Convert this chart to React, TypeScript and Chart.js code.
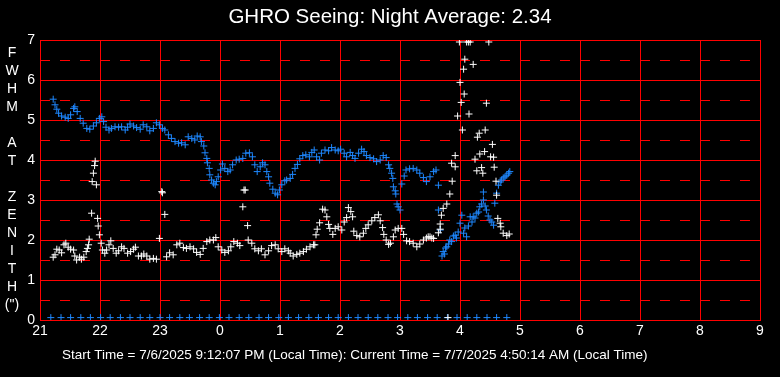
import React, { useEffect, useRef } from "react";
import { Chart, registerables } from "chart.js";

Chart.register(...registerables);

// ---------- DATA (x = hours after 21:00 local time) ----------
const hourLabels = ["21", "22", "23", "0", "1", "2", "3", "4", "5", "6", "7", "8", "9"];
const yTickValues = [0, 1, 2, 3, 4, 5, 6, 7];
const dashedLevels = [0.5, 1.5, 2.5, 3.5, 4.5, 5.5, 6.5];

const titleText = "GHRO Seeing: Night Average: 2.34";
const footerText =
  "Start Time = 7/6/2025 9:12:07 PM (Local Time): Current Time = 7/7/2025 4:50:14 AM (Local Time)";
const yLabelLetters = ["F", "W", "H", "M", "", "A", "T", "", "Z", "E", "N", "I", "T", "H", '(")'];

// Blue series (FWHM)
const blueX = [
  0.22, 0.25, 0.28, 0.31, 0.36, 0.42, 0.47, 0.51, 0.56, 0.58, 0.62, 0.67, 0.72, 0.78, 0.83, 0.89,
  0.94, 0.99, 1.03, 1.06, 1.1, 1.15, 1.19, 1.25, 1.31, 1.36, 1.42, 1.46, 1.5, 1.56, 1.61, 1.67,
  1.72, 1.78, 1.83, 1.89, 1.94, 1.99, 2.04, 2.08, 2.14, 2.19, 2.25, 2.31, 2.36, 2.42, 2.47, 2.53,
  2.58, 2.62, 2.67, 2.69, 2.73, 2.75, 2.78, 2.79, 2.82, 2.83, 2.86, 2.89, 2.92, 2.94, 2.97, 3.01,
  3.04, 3.08, 3.13, 3.17, 3.21, 3.27, 3.32, 3.38, 3.43, 3.49, 3.54, 3.58, 3.62, 3.67, 3.71, 3.75,
  3.78, 3.81, 3.83, 3.88, 3.92, 3.96, 3.99, 4.03, 4.08, 4.11, 4.17, 4.21, 4.25, 4.29, 4.33, 4.38,
  4.43, 4.49, 4.53, 4.57, 4.61, 4.66, 4.69, 4.75, 4.81, 4.86, 4.92, 4.97, 5.01, 5.07, 5.11, 5.17,
  5.21, 5.25, 5.31, 5.36, 5.4, 5.44, 5.5, 5.56, 5.61, 5.67, 5.72, 5.77, 5.81, 5.83, 5.86, 5.88,
  5.89, 5.92, 5.93, 5.95, 5.97, 6.0, 6.03, 6.07, 6.1, 6.16, 6.22, 6.28, 6.33, 6.39, 6.44, 6.5,
  6.56, 6.6, 6.64, 6.64, 6.67, 6.7, 6.72, 6.74, 6.76, 6.78, 6.81, 6.83, 6.86, 6.89, 6.92, 6.94,
  6.97, 7.0, 7.03, 7.06, 7.08, 7.11, 7.14, 7.17, 7.2, 7.22, 7.25, 7.28, 7.31, 7.33, 7.36, 7.39,
  7.39, 7.42, 7.44, 7.47, 7.5, 7.53, 7.56, 7.58, 7.61, 7.64, 7.67, 7.69, 7.72, 7.75, 7.78, 7.81,
  7.83,
];
const blueY = [
  5.52, 5.38, 5.27, 5.17, 5.1, 5.07, 5.04, 5.13, 5.29, 5.33, 5.21, 5.04, 4.92, 4.79, 4.77, 4.85,
  4.93, 5.04, 5.08, 4.96, 4.82, 4.75, 4.79, 4.83, 4.82, 4.83, 4.75, 4.82, 4.9, 4.85, 4.81, 4.77,
  4.88, 4.83, 4.73, 4.79, 4.93, 4.88, 4.79, 4.75, 4.63, 4.54, 4.46, 4.42, 4.43, 4.38, 4.58, 4.54,
  4.5, 4.6, 4.58, 4.46, 4.35, 4.18, 4.04, 3.93, 3.79, 3.63, 3.5, 3.42, 3.38, 3.46, 3.58, 3.75,
  3.9, 3.79, 3.71, 3.75, 3.88, 4.0, 4.02, 4.04, 4.17, 4.18, 4.08, 3.88, 3.71, 3.83, 3.93, 3.88,
  3.71, 3.58, 3.42, 3.27, 3.17, 3.13, 3.25, 3.38, 3.48, 3.5, 3.54, 3.64, 3.79, 3.89, 4.03, 4.11,
  4.13, 4.08, 4.19, 4.25, 4.08, 4.0, 4.17, 4.25, 4.23, 4.31, 4.25, 4.23, 4.27, 4.17, 4.08, 4.19,
  4.11, 4.04, 4.17, 4.27, 4.21, 4.11, 4.06, 4.03, 3.96, 4.0, 4.11, 4.06, 3.88, 3.79, 3.67, 3.54,
  3.33, 3.23, 3.15, 2.9, 2.83, 2.75, 3.4, 3.6, 3.75, 3.78, 3.79, 3.75, 3.67, 3.56, 3.46, 3.58,
  3.71, 3.75, 3.37, 2.75, 2.25, 1.6, 1.71, 1.65, 1.8, 1.83, 1.9, 2.0, 1.96, 2.1, 2.12, 2.05,
  2.2, 2.42, 2.62, 2.17, 2.3, 2.08, 2.35, 2.58, 2.45, 2.58, 2.55, 2.67, 2.7, 2.83, 2.9, 3.0,
  3.2, 2.85, 2.75, 2.6, 2.5, 2.45, 2.37, 2.92, 3.17, 3.37, 3.45, 3.5, 3.55, 3.58, 3.62, 3.67,
  3.71,
];

// White series
const whiteX = [
  0.22, 0.25, 0.28, 0.32, 0.36, 0.4, 0.43, 0.47, 0.51, 0.56, 0.58, 0.61, 0.66, 0.69, 0.73, 0.77,
  0.79, 0.81, 0.82, 0.86, 0.87, 0.89, 0.91, 0.92, 0.94, 0.96, 0.97, 0.99, 1.02, 1.04, 1.08, 1.11,
  1.15, 1.18, 1.22, 1.27, 1.31, 1.36, 1.4, 1.46, 1.51, 1.56, 1.59, 1.64, 1.69, 1.73, 1.78, 1.83,
  1.89, 1.94, 1.99, 2.03, 2.04, 2.08, 2.11, 2.16, 2.22, 2.28, 2.33, 2.39, 2.44, 2.5, 2.56, 2.61,
  2.67, 2.72, 2.78, 2.83, 2.89, 2.93, 2.97, 3.03, 3.08, 3.14, 3.18, 3.23, 3.29, 3.33, 3.38, 3.4,
  3.42, 3.46, 3.47, 3.53, 3.58, 3.64, 3.69, 3.75, 3.81, 3.86, 3.92, 3.97, 4.03, 4.08, 4.14, 4.17,
  4.22, 4.28, 4.33, 4.39, 4.44, 4.5, 4.56, 4.58, 4.6, 4.62, 4.66, 4.71, 4.75, 4.78, 4.81, 4.83,
  4.88, 4.92, 4.97, 5.03, 5.07, 5.11, 5.14, 5.18, 5.21, 5.23, 5.28, 5.33, 5.39, 5.43, 5.47, 5.53,
  5.58, 5.64, 5.67, 5.71, 5.73, 5.77, 5.81, 5.84, 5.89, 5.92, 5.97, 6.03, 6.06, 6.11, 6.16, 6.22,
  6.28, 6.33, 6.39, 6.44, 6.47, 6.5, 6.53, 6.56, 6.64, 6.67, 6.67, 6.69, 6.72, 6.78, 6.83, 6.87,
  6.86, 6.92, 6.92, 6.96, 7.0, 7.02, 7.04, 7.06, 7.07, 7.08, 7.15, 7.22, 6.99, 7.11, 7.14, 7.17,
  7.48, 7.25, 7.28, 7.29, 7.32, 7.33, 7.36, 7.38, 7.41, 7.42, 7.44, 7.51, 7.54, 7.56, 7.57, 7.6,
  7.61, 7.63, 7.67, 7.68, 7.72, 7.78, 7.82, 6.8,
];
const whiteY = [
  1.57, 1.63, 1.77, 1.75, 1.68, 1.88, 1.92, 1.82, 1.77, 1.75, 1.6, 1.5, 1.57, 1.52, 1.57, 1.71,
  1.79, 1.88, 2.02, 2.67, 3.46, 3.67, 3.86, 3.97, 3.38, 2.54, 2.35, 2.13, 1.92, 1.75, 1.67, 1.75,
  1.88, 1.98, 1.79, 1.67, 1.73, 1.83, 1.79, 1.67, 1.71, 1.77, 1.82, 1.6, 1.6, 1.65, 1.6, 1.52,
  1.54, 1.52, 2.04, 3.21, 3.18, 2.64, 1.58, 1.68, 1.63, 1.88, 1.92, 1.81, 1.79, 1.83, 1.78, 1.69,
  1.64, 1.79, 1.96, 2.0, 2.0, 2.06, 1.83, 1.75, 1.69, 1.73, 1.83, 1.96, 1.92, 1.86, 2.83, 3.25,
  3.25, 2.36, 2.0, 1.92, 1.78, 1.73, 1.78, 1.63, 1.73, 1.86, 1.88, 1.78, 1.71, 1.78, 1.73, 1.67,
  1.6, 1.64, 1.67, 1.71, 1.77, 1.83, 1.88, 1.88, 2.13, 2.27, 2.43, 2.77, 2.75, 2.58, 2.39, 2.29,
  2.14, 2.29, 2.33, 2.25, 2.45, 2.56, 2.81, 2.71, 2.58, 2.22, 2.11, 2.08, 2.17, 2.29, 2.38, 2.48,
  2.56, 2.63, 2.48, 2.31, 2.14, 2.0, 1.89, 1.92, 2.08, 2.25, 2.29, 2.29, 2.14, 1.98, 1.96, 1.92,
  1.83, 1.9, 2.0, 2.05, 2.08, 2.08, 2.05, 2.04, 2.18, 2.27, 2.4, 2.62, 2.79, 2.9, 3.15, 3.47,
  3.92, 4.11, 3.83, 5.1, 5.94, 5.44, 4.75, 6.27, 5.65, 6.52, 5.15, 6.39, 6.95, 6.95, 6.95, 6.95,
  6.95, 4.02, 3.73, 4.57, 4.67, 4.15, 3.81, 3.67, 4.21, 4.75, 5.42, 4.08, 4.39, 4.07, 3.82, 3.47,
  3.12, 2.54, 2.42, 2.33, 2.17, 2.11, 2.15, 0.06,
];

// Blue markers along the bottom of the chart
const baselineX = [
  0.18, 0.35, 0.51, 0.68, 0.84, 1.01, 1.17, 1.34, 1.5, 1.67, 1.83, 2.0, 2.16, 2.33, 2.49, 2.66,
  2.82, 2.99, 3.15, 3.32, 3.48, 3.65, 3.81, 3.98, 4.14, 4.31, 4.48, 4.64, 4.81, 4.97, 5.14, 5.3,
  5.47, 5.63, 5.8, 5.96, 6.13, 6.29, 6.46, 6.62, 6.79, 6.95, 7.12, 7.28, 7.45, 7.61, 7.78,
];
const baselineValue = 0.06;

// ---------- STYLE ----------
const FONT = '"Liberation Sans", Arial, Helvetica, sans-serif';
const RED = "#ff0000";
const BLUE = "rgb(30,136,255)";
const WHITE = "#ffffff";

const toPoints = (xs: number[], ys: number[]) => xs.map((x, i) => ({ x, y: ys[i] }));

const dashedGridPlugin = {
  id: "dashedHalfLines",
  beforeDatasetsDraw(chart: any) {
    const { ctx, chartArea, scales } = chart;
    const ys = scales.y;
    ctx.save();
    ctx.strokeStyle = RED;
    ctx.lineWidth = 1;
    ctx.setLineDash([10, 10]);
    ctx.lineDashOffset = 0;
    dashedLevels.forEach((v) => {
      const py = Math.round(ys.getPixelForValue(v)) + 0.5;
      ctx.beginPath();
      ctx.moveTo(chartArea.left, py);
      ctx.lineTo(chartArea.right, py);
      ctx.stroke();
    });
    ctx.restore();
  },
};

const textPlugin = {
  id: "seeingTexts",
  beforeDraw(chart: any) {
    const ctx = chart.ctx;
    ctx.save();
    ctx.fillStyle = "#000";
    ctx.fillRect(0, 0, chart.width, chart.height);
    ctx.restore();
  },
  afterDraw(chart: any) {
    const ctx = chart.ctx;
    ctx.save();
    ctx.fillStyle = WHITE;
    ctx.textBaseline = "middle";
    ctx.textAlign = "center";
    ctx.font = `20.5px ${FONT}`;
    ctx.fillText(titleText, 390, 17);

    ctx.font = `14px ${FONT}`;
    yLabelLetters.forEach((ch, i) => {
      if (ch) ctx.fillText(ch, 12, 53 + 18 * i);
    });

    ctx.textAlign = "left";
    ctx.font = `13.5px ${FONT}`;
    ctx.fillText(footerText, 62, 355);
    ctx.restore();
  },
};

export default function App() {
  const canvasRef = useRef<HTMLCanvasElement | null>(null);

  useEffect(() => {
    document.body.style.margin = "0";
    document.body.style.background = "#000";
    const canvas = canvasRef.current;
    if (!canvas) return;

    const pointStyle = {
      showLine: false,
      pointStyle: "cross" as const,
      pointRadius: 3.5,
      pointBorderWidth: 1,
    };

    const chart = new Chart(canvas, {
      type: "scatter",
      data: {
        datasets: [
          {
            label: "Seeing (white)",
            data: toPoints(whiteX, whiteY),
            borderColor: WHITE,
            backgroundColor: WHITE,
            ...pointStyle,
          },
          {
            label: "FWHM",
            data: toPoints(blueX, blueY),
            borderColor: BLUE,
            backgroundColor: BLUE,
            ...pointStyle,
          },
          {
            label: "Samples",
            data: baselineX.map((x) => ({ x, y: baselineValue })),
            borderColor: BLUE,
            backgroundColor: BLUE,
            ...pointStyle,
          },
        ],
      },
      options: {
        responsive: false,
        animation: false,
        events: [],
        layout: { padding: { left: 0, right: 20, top: 40, bottom: 37 } },
        plugins: {
          legend: { display: false },
          tooltip: { enabled: false },
          title: { display: false },
        },
        scales: {
          x: {
            type: "linear",
            min: 0,
            max: 12,
            afterBuildTicks: (s: any) => {
              s.ticks = hourLabels.map((_, i) => ({ value: i }));
            },
            ticks: {
              color: WHITE,
              font: { size: 14, family: FONT },
              padding: 3,
              maxRotation: 0,
              autoSkip: false,
              callback: (v: any) => hourLabels[Number(v)] ?? "",
            },
            grid: { color: RED, lineWidth: 1, drawTicks: false },
            border: { color: RED, width: 1 },
            afterFit: (s: any) => {
              s.height = 20;
            },
          },
          y: {
            type: "linear",
            min: 0,
            max: 7,
            afterBuildTicks: (s: any) => {
              s.ticks = yTickValues.map((v) => ({ value: v }));
            },
            ticks: {
              color: WHITE,
              font: { size: 14, family: FONT },
              padding: 5,
              autoSkip: false,
              callback: (v: any) => String(v),
            },
            grid: { color: RED, lineWidth: 1, drawTicks: false },
            border: { color: RED, width: 1 },
            afterFit: (s: any) => {
              s.width = 40;
            },
          },
        },
      },
      plugins: [textPlugin, dashedGridPlugin],
    } as any);

    return () => chart.destroy();
  }, []);

  return (
    <div style={{ width: 780, height: 377, background: "#000" }}>
      <canvas ref={canvasRef} width={780} height={377} style={{ display: "block" }} />
    </div>
  );
}
